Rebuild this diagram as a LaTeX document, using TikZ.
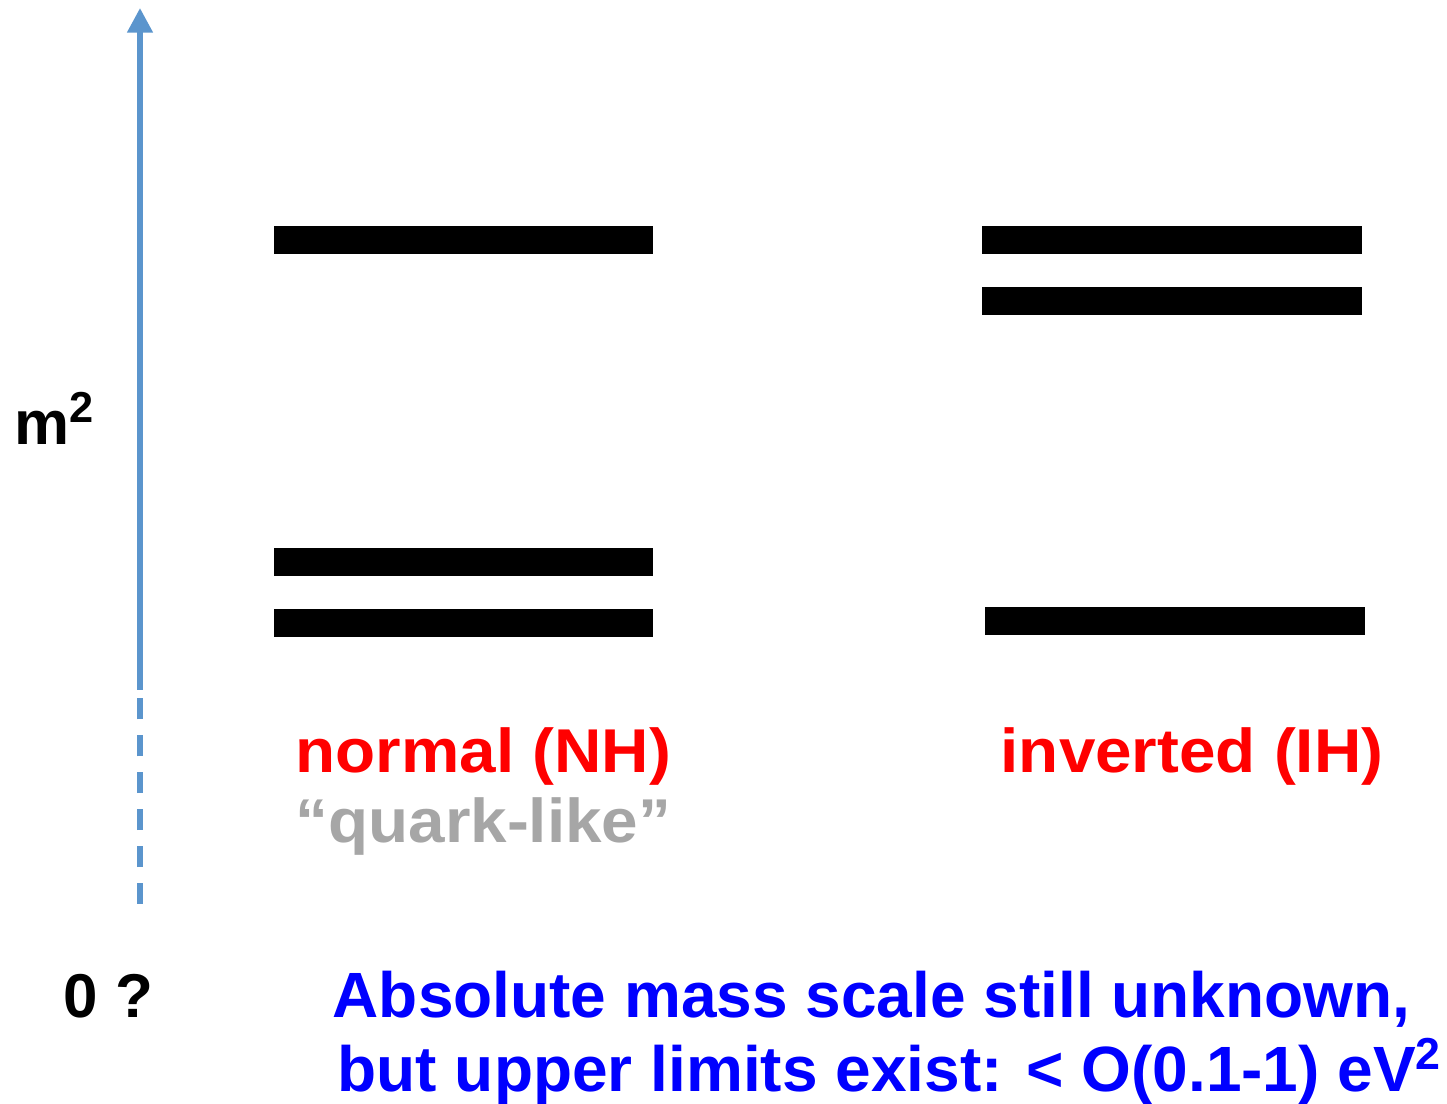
\documentclass[tikz,border=0pt]{standalone}
\usepackage{fontspec}
\setmainfont{Liberation Sans}
\newfontfamily\widefont[FakeStretch=1.06, Ligatures=TeX]{Liberation Sans}
\usetikzlibrary{arrows.meta, positioning}
\definecolor{axisblue}{RGB}{91,149,205}
\definecolor{quarkgray}{RGB}{166,166,166}

\begin{document}
\begin{tikzpicture}[
        x=0.01cm, y=-0.01cm,
        font=\bfseries,
        >={Triangle[length=7pt, width=7pt]},
        level/.style={
            fill=black,
            inner sep=0pt,
            minimum width=3.79cm,
            minimum height=0.28cm
        },
        hier/.style={
            text=red,
            anchor=base west,
            inner sep=0pt,
            font=\fontsize{17.6}{20}\widefont\bfseries
        },
        axis/.style={
            draw=axisblue,
            line width=1.6pt
        }
    ]
        \useasboundingbox (0,0) rectangle (1447,1104);

        % axis
        \coordinate (zero) at (140,904);
        \coordinate (solid) at (140,690);
        \coordinate (top) at (140,8);
        \draw[axis, dash pattern=on 6pt off 4.5pt] (zero) -- (solid);
        \draw[axis, ->] (solid) -- (top);

        \node[anchor=base west, inner sep=0pt, font=\fontsize{17.6}{20}\selectfont\bfseries] (msq) at (14,445) {m\textsuperscript{2}};
        \node[anchor=base west, inner sep=0pt, font=\fontsize{17.6}{20}\selectfont\bfseries] (zlabel) at (63,1018) {0 ?};

        % levels
        \node[level] (nh3) at (463.5,240) {};
        \node[level] (nh2) at (463.5,562) {};
        \node[level] (nh1) at (463.5,623) {};

        \node[level] (ih2) at (1172,240) {};
        \node[level] (ih1) at (1172,301) {};
        \node[level] (ih3) at (1175,621) {};

        \node[hier] (nhlabel) at (295,773) {normal (NH)};
        \node[hier, text=quarkgray] (quark) at (295,843) {“quark-like”};
        \node[hier] (ihlabel) at (1000,773) {inverted (IH)};

        \node[anchor=base west, inner sep=0pt, text=blue, font=\fontsize{18.2}{21}\selectfont\bfseries] (scale1) at (332,1018) {Absolute mass scale still unknown,};
        \node[anchor=base west, inner sep=0pt, text=blue, font=\fontsize{18.2}{21}\selectfont\bfseries] (scale2) at (337,1092) {but upper limits exist: < O(0.1-1) eV\textsuperscript{2}};
\end{tikzpicture}
\end{document}
